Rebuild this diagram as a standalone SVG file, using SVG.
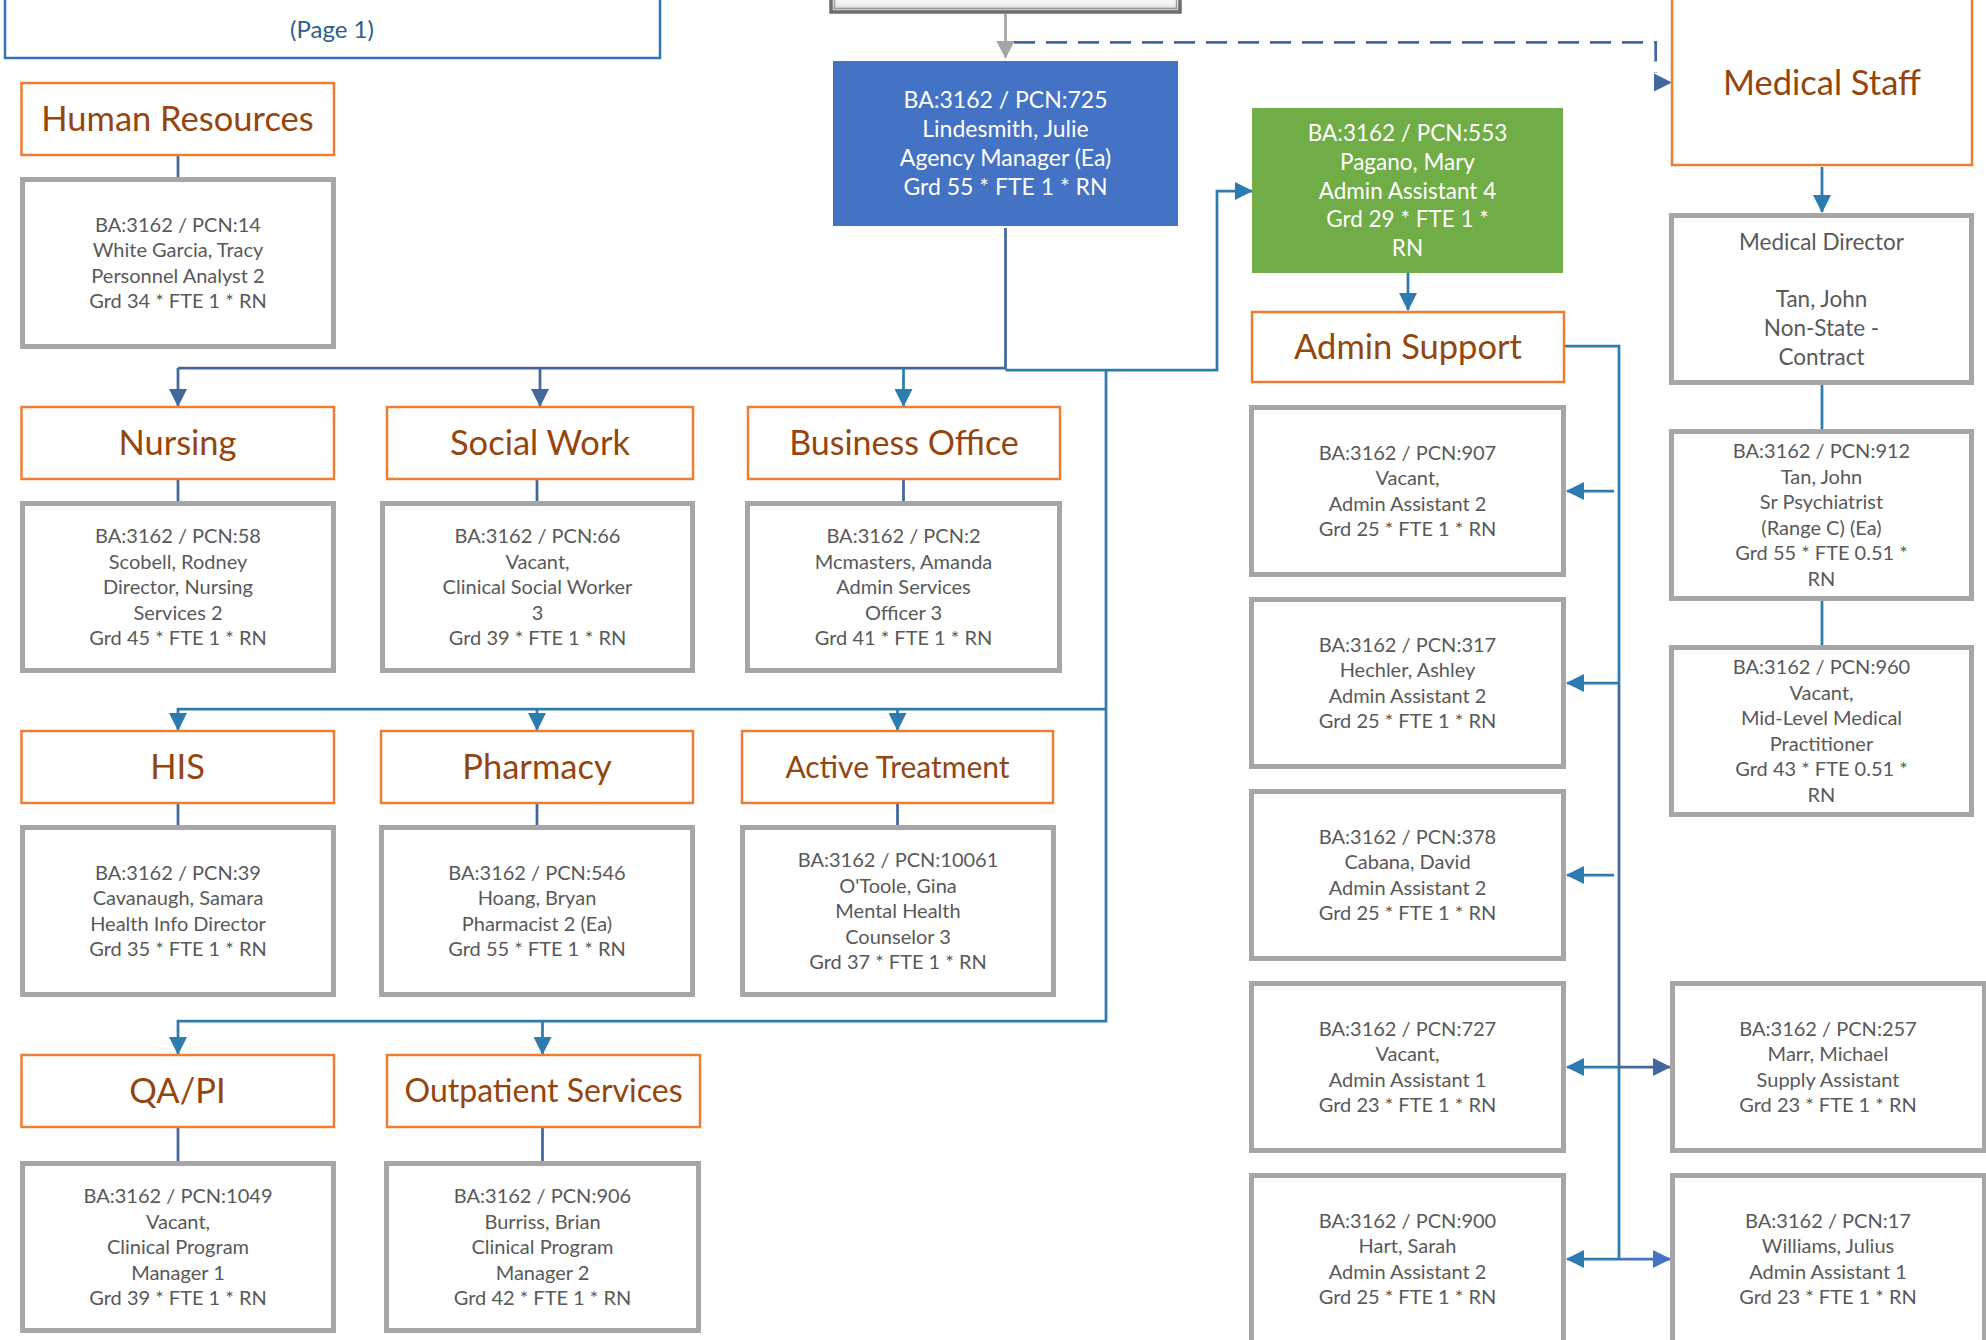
<svg xmlns="http://www.w3.org/2000/svg" width="1986" height="1340" viewBox="0 0 1986 1340">
<style>
text{font-family:Lato,"Open Sans","Liberation Sans",sans-serif;text-anchor:middle}
.hdr rect{fill:#fff;stroke:#ED7D31;stroke-width:2.5}
.hdr text{font-size:34.5px;fill:#95460F}
.pos rect{fill:#fff;stroke:#A6A6A6;stroke-width:5}
.pos text{font-size:20px;fill:#595959}
.big text{font-size:23px;fill:#fff}
.c{fill:none;stroke-width:2.75}
.cb{stroke:#43679F}
.ct{stroke:#2E7CAF}
.cg{stroke:#A5A5A5}
.cl{stroke:#4472C4}
</style>
<defs>
<marker id="ab" markerUnits="userSpaceOnUse" markerWidth="18" markerHeight="18" viewBox="0 0 18 18" refX="17" refY="9" orient="auto"><path d="M0,0L18,9L0,18z" fill="#43679F"/></marker>
<marker id="at" markerUnits="userSpaceOnUse" markerWidth="18" markerHeight="18" viewBox="0 0 18 18" refX="17" refY="9" orient="auto"><path d="M0,0L18,9L0,18z" fill="#2E7CAF"/></marker>
<marker id="ag" markerUnits="userSpaceOnUse" markerWidth="18" markerHeight="19" viewBox="0 0 18 19" refX="17" refY="9.5" orient="auto"><path d="M0,0L18,9.5L0,19z" fill="#A5A5A5"/></marker>
<marker id="al" markerUnits="userSpaceOnUse" markerWidth="18" markerHeight="18" viewBox="0 0 18 18" refX="17" refY="9" orient="auto"><path d="M0,0L18,9L0,18z" fill="#4472C4"/></marker>
<linearGradient id="tg" x1="0" y1="0" x2="0" y2="1"><stop offset="0" stop-color="#ffffff"/><stop offset="0.8" stop-color="#f4f4f4"/><stop offset="1" stop-color="#c8c8c8"/></linearGradient>
</defs>

<g id="page-ref">
<rect x="5" y="-10" width="655" height="68" fill="#fff" stroke="#2E75B6" stroke-width="2.5"/>
<text x="332" y="38" font-size="24" fill="#2F5C90">(Page 1)</text>
</g>

<g id="top-box">
<rect x="831" y="-30" width="349" height="42" fill="url(#tg)" stroke="#6E6E6E" stroke-width="3.5"/>
<rect x="834.5" y="-30" width="342" height="38.5" fill="none" stroke="#9A9A9A" stroke-width="1.5"/>
</g>

<g id="connectors">
<path class="c cg" d="M1005.5,14V57.5" marker-end="url(#ag)"/>
<path class="c cb" d="M1014,42.3H1655.7V73" stroke-dasharray="21 11"/>
<polygon points="1654,73.5 1672,82.5 1654,91.5" fill="#43679F"/>
<path class="c cb" d="M1005.5,228V368H178"/>
<path class="c cb" d="M178,368V406" marker-end="url(#ab)"/>
<path class="c cb" d="M540,368V406" marker-end="url(#ab)"/>
<path class="c ct" d="M903.5,368V406" marker-end="url(#at)"/>
<path class="c ct" d="M1005.5,370H1217V191H1252" marker-end="url(#at)"/>
<path class="c ct" d="M1106,370V1021H178V1054" marker-end="url(#at)"/>
<path class="c ct" d="M542.5,1021V1054" marker-end="url(#at)"/>
<path class="c ct" d="M1106,709H178V730" marker-end="url(#at)"/>
<path class="c ct" d="M537,709V730" marker-end="url(#at)"/>
<path class="c ct" d="M897.5,709V730" marker-end="url(#at)"/>
<path class="c cb" d="M178,156V177M537,480V501M178,480V501M903.5,480V501M178,804V825M537,804V825M897.5,804V825M178,1128V1161M542.5,1128V1161"/>
<path class="c ct" d="M1408,273V310" marker-end="url(#at)"/>
<path class="c ct" d="M1565,346H1619V683"/>
<path class="c cb" d="M1619,683V1067"/>
<path class="c ct" d="M1619,1067V1259"/>
<path class="c ct" d="M1614,491H1567" marker-end="url(#at)"/>
<path class="c ct" d="M1619,683H1567" marker-end="url(#at)"/>
<path class="c ct" d="M1614,875H1567" marker-end="url(#at)"/>
<path class="c ct" d="M1619,1067H1567" marker-end="url(#at)"/>
<path class="c ct" d="M1619,1259H1567" marker-end="url(#at)"/>
<path class="c cb" d="M1619,1067H1670" marker-end="url(#ab)"/>
<path class="c cl" d="M1619,1259H1670" marker-end="url(#al)"/>
<path class="c ct" d="M1822,167V212" marker-end="url(#at)"/>
<path class="c ct" d="M1822,385V429M1822,601V645"/>
</g>

<g id="agency-manager" class="big">
<rect x="833" y="61" width="345" height="165" fill="#4472C4"/>
<text><tspan x="1005.5" y="107.5">BA:3162 / PCN:725</tspan><tspan x="1005.5" y="136.5">Lindesmith, Julie</tspan><tspan x="1005.5" y="165.5">Agency Manager (Ea)</tspan><tspan x="1005.5" y="194.5">Grd 55 * FTE 1 * RN</tspan></text>
</g>

<g id="admin-assistant-4" class="big">
<rect x="1252" y="108" width="311" height="165" fill="#70AD47"/>
<text style="font-size:22.5px"><tspan x="1407.5" y="141">BA:3162 / PCN:553</tspan><tspan x="1407.5" y="169.75">Pagano, Mary</tspan><tspan x="1407.5" y="198.5">Admin Assistant 4</tspan><tspan x="1407.5" y="227.25">Grd 29 * FTE 1 *</tspan><tspan x="1407.5" y="256">RN</tspan></text>
</g>

<g id="hdr-hr" class="hdr"><rect x="21.5" y="83" width="312.5" height="72"/><text x="177.5" y="131">Human Resources</text></g>
<g id="hdr-nursing" class="hdr"><rect x="21.5" y="407" width="312.5" height="72"/><text x="177.5" y="455">Nursing</text></g>
<g id="hdr-social-work" class="hdr"><rect x="387" y="407" width="306" height="72"/><text x="540" y="455">Social Work</text></g>
<g id="hdr-business-office" class="hdr"><rect x="748" y="407" width="312" height="72"/><text x="904" y="455" style="font-size:34px">Business Office</text></g>
<g id="hdr-his" class="hdr"><rect x="21.5" y="731" width="312.5" height="72"/><text x="177.5" y="779">HIS</text></g>
<g id="hdr-pharmacy" class="hdr"><rect x="381" y="731" width="312" height="72"/><text x="537" y="779">Pharmacy</text></g>
<g id="hdr-active-treatment" class="hdr"><rect x="742" y="731" width="311" height="72"/><text x="897.5" y="777.5" style="font-size:30px">Active Treatment</text></g>
<g id="hdr-qapi" class="hdr"><rect x="21.5" y="1055" width="312.5" height="72"/><text x="177.5" y="1103">QA/PI</text></g>
<g id="hdr-outpatient" class="hdr"><rect x="387" y="1055" width="313" height="72"/><text x="543.5" y="1102" style="font-size:32px">Outpatient Services</text></g>
<g id="hdr-admin-support" class="hdr"><rect x="1252" y="312" width="312" height="70"/><text x="1408" y="359">Admin Support</text></g>
<g id="hdr-medical-staff" class="hdr"><rect x="1672" y="-5" width="300" height="170"/><text x="1822" y="94.5">Medical Staff</text></g>

<g id="pos-14" class="pos"><rect x="22.5" y="179.5" width="311" height="167"/><text><tspan x="178" y="231.75">BA:3162 / PCN:14</tspan><tspan x="178" y="257.25">White Garcia, Tracy</tspan><tspan x="178" y="282.75">Personnel Analyst 2</tspan><tspan x="178" y="308.25">Grd 34 * FTE 1 * RN</tspan></text></g>

<g id="pos-58" class="pos"><rect x="22.5" y="503.5" width="311" height="167"/><text><tspan x="178" y="543">BA:3162 / PCN:58</tspan><tspan x="178" y="568.5">Scobell, Rodney</tspan><tspan x="178" y="594">Director, Nursing</tspan><tspan x="178" y="619.5">Services 2</tspan><tspan x="178" y="645">Grd 45 * FTE 1 * RN</tspan></text></g>

<g id="pos-66" class="pos"><rect x="382.5" y="503.5" width="310" height="167"/><text><tspan x="537.5" y="543">BA:3162 / PCN:66</tspan><tspan x="537.5" y="568.5">Vacant,</tspan><tspan x="537.5" y="594">Clinical Social Worker</tspan><tspan x="537.5" y="619.5">3</tspan><tspan x="537.5" y="645">Grd 39 * FTE 1 * RN</tspan></text></g>

<g id="pos-2" class="pos"><rect x="747.5" y="503.5" width="312" height="167"/><text><tspan x="903.5" y="543">BA:3162 / PCN:2</tspan><tspan x="903.5" y="568.5">Mcmasters, Amanda</tspan><tspan x="903.5" y="594">Admin Services</tspan><tspan x="903.5" y="619.5">Officer 3</tspan><tspan x="903.5" y="645">Grd 41 * FTE 1 * RN</tspan></text></g>

<g id="pos-39" class="pos"><rect x="22.5" y="827.5" width="311" height="167"/><text><tspan x="178" y="879.75">BA:3162 / PCN:39</tspan><tspan x="178" y="905.25">Cavanaugh, Samara</tspan><tspan x="178" y="930.75">Health Info Director</tspan><tspan x="178" y="956.25">Grd 35 * FTE 1 * RN</tspan></text></g>

<g id="pos-546" class="pos"><rect x="381.5" y="827.5" width="311" height="167"/><text><tspan x="537" y="879.75">BA:3162 / PCN:546</tspan><tspan x="537" y="905.25">Hoang, Bryan</tspan><tspan x="537" y="930.75">Pharmacist 2 (Ea)</tspan><tspan x="537" y="956.25">Grd 55 * FTE 1 * RN</tspan></text></g>

<g id="pos-10061" class="pos"><rect x="742.5" y="827.5" width="311" height="167"/><text><tspan x="898" y="867">BA:3162 / PCN:10061</tspan><tspan x="898" y="892.5">O'Toole, Gina</tspan><tspan x="898" y="918">Mental Health</tspan><tspan x="898" y="943.5">Counselor 3</tspan><tspan x="898" y="969">Grd 37 * FTE 1 * RN</tspan></text></g>

<g id="pos-1049" class="pos"><rect x="22.5" y="1163.5" width="311" height="167"/><text><tspan x="178" y="1203">BA:3162 / PCN:1049</tspan><tspan x="178" y="1228.5">Vacant,</tspan><tspan x="178" y="1254">Clinical Program</tspan><tspan x="178" y="1279.5">Manager 1</tspan><tspan x="178" y="1305">Grd 39 * FTE 1 * RN</tspan></text></g>

<g id="pos-906" class="pos"><rect x="386.5" y="1163.5" width="312" height="167"/><text><tspan x="542.5" y="1203">BA:3162 / PCN:906</tspan><tspan x="542.5" y="1228.5">Burriss, Brian</tspan><tspan x="542.5" y="1254">Clinical Program</tspan><tspan x="542.5" y="1279.5">Manager 2</tspan><tspan x="542.5" y="1305">Grd 42 * FTE 1 * RN</tspan></text></g>

<g id="pos-907" class="pos"><rect x="1251.5" y="407.5" width="312" height="167"/><text><tspan x="1407.5" y="459.75">BA:3162 / PCN:907</tspan><tspan x="1407.5" y="485.25">Vacant,</tspan><tspan x="1407.5" y="510.75">Admin Assistant 2</tspan><tspan x="1407.5" y="536.25">Grd 25 * FTE 1 * RN</tspan></text></g>

<g id="pos-317" class="pos"><rect x="1251.5" y="599.5" width="312" height="167"/><text><tspan x="1407.5" y="651.75">BA:3162 / PCN:317</tspan><tspan x="1407.5" y="677.25">Hechler, Ashley</tspan><tspan x="1407.5" y="702.75">Admin Assistant 2</tspan><tspan x="1407.5" y="728.25">Grd 25 * FTE 1 * RN</tspan></text></g>

<g id="pos-378" class="pos"><rect x="1251.5" y="791.5" width="312" height="167"/><text><tspan x="1407.5" y="843.75">BA:3162 / PCN:378</tspan><tspan x="1407.5" y="869.25">Cabana, David</tspan><tspan x="1407.5" y="894.75">Admin Assistant 2</tspan><tspan x="1407.5" y="920.25">Grd 25 * FTE 1 * RN</tspan></text></g>

<g id="pos-727" class="pos"><rect x="1251.5" y="983.5" width="312" height="167"/><text><tspan x="1407.5" y="1035.75">BA:3162 / PCN:727</tspan><tspan x="1407.5" y="1061.25">Vacant,</tspan><tspan x="1407.5" y="1086.75">Admin Assistant 1</tspan><tspan x="1407.5" y="1112.25">Grd 23 * FTE 1 * RN</tspan></text></g>

<g id="pos-900" class="pos"><rect x="1251.5" y="1175.5" width="312" height="167"/><text><tspan x="1407.5" y="1227.75">BA:3162 / PCN:900</tspan><tspan x="1407.5" y="1253.25">Hart, Sarah</tspan><tspan x="1407.5" y="1278.75">Admin Assistant 2</tspan><tspan x="1407.5" y="1304.25">Grd 25 * FTE 1 * RN</tspan></text></g>

<g id="medical-director" class="pos"><rect x="1671.5" y="215.5" width="300" height="167"/><text style="font-size:22.5px"><tspan x="1821.5" y="249.5">Medical Director</tspan><tspan x="1821.5" y="307">Tan, John</tspan><tspan x="1821.5" y="335.75">Non-State -</tspan><tspan x="1821.5" y="364.5">Contract</tspan></text></g>

<g id="pos-912" class="pos"><rect x="1671.5" y="431.5" width="300" height="167"/><text><tspan x="1821.5" y="458.25">BA:3162 / PCN:912</tspan><tspan x="1821.5" y="483.75">Tan, John</tspan><tspan x="1821.5" y="509.25">Sr Psychiatrist</tspan><tspan x="1821.5" y="534.75">(Range C) (Ea)</tspan><tspan x="1821.5" y="560.25">Grd 55 * FTE 0.51 *</tspan><tspan x="1821.5" y="585.75">RN</tspan></text></g>

<g id="pos-960" class="pos"><rect x="1671.5" y="647.5" width="300" height="167"/><text><tspan x="1821.5" y="674.25">BA:3162 / PCN:960</tspan><tspan x="1821.5" y="699.75">Vacant,</tspan><tspan x="1821.5" y="725.25">Mid-Level Medical</tspan><tspan x="1821.5" y="750.75">Practitioner</tspan><tspan x="1821.5" y="776.25">Grd 43 * FTE 0.51 *</tspan><tspan x="1821.5" y="801.75">RN</tspan></text></g>

<g id="pos-257" class="pos"><rect x="1672.5" y="983.5" width="312" height="167"/><text><tspan x="1828" y="1035.75">BA:3162 / PCN:257</tspan><tspan x="1828" y="1061.25">Marr, Michael</tspan><tspan x="1828" y="1086.75">Supply Assistant</tspan><tspan x="1828" y="1112.25">Grd 23 * FTE 1 * RN</tspan></text></g>

<g id="pos-17" class="pos"><rect x="1672.5" y="1175.5" width="312" height="167"/><text><tspan x="1828" y="1227.75">BA:3162 / PCN:17</tspan><tspan x="1828" y="1253.25">Williams, Julius</tspan><tspan x="1828" y="1278.75">Admin Assistant 1</tspan><tspan x="1828" y="1304.25">Grd 23 * FTE 1 * RN</tspan></text></g>
</svg>
